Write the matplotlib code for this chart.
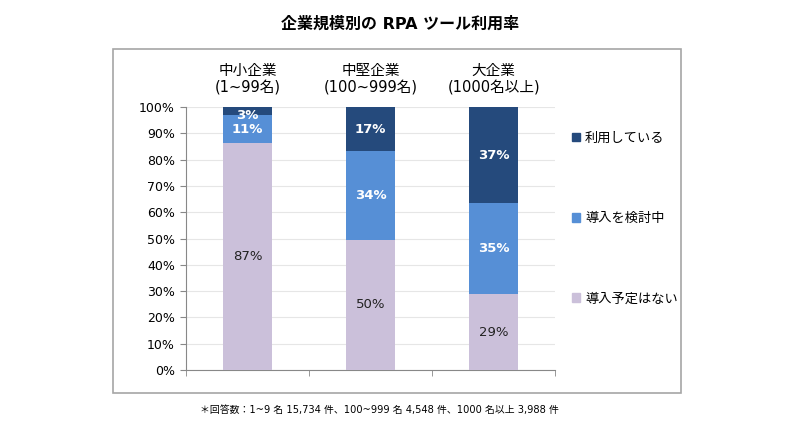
import matplotlib
matplotlib.use("Agg")
import matplotlib.pyplot as plt
import matplotlib.transforms as mtransforms
from matplotlib.patches import Rectangle, Patch

plt.rcParams["font.family"] = ["DejaVu Sans", "Noto Sans CJK JP"]

# データ
categories = ["中小企業\n(1~99名)", "中堅企業\n(100~999名)", "大企業\n(1000名以上)"]
series_names = ["利用している", "導入を検討中", "導入予定はない"]
using = [3, 17, 37]
considering = [11, 34, 35]
no_plan = [87, 50, 29]
colors = ["#254A7C", "#568FD6", "#CBC0DA"]
title = "企業規模別の RPA ツール利用率"
note = "＊回答数：1~9 名 15,734 件、100~999 名 4,548 件、1000 名以上 3,988 件"

# 100%積み上げ用に正規化
totals = [a + b + c for a, b, c in zip(using, considering, no_plan)]
norm = lambda vals: [v / t * 100 for v, t in zip(vals, totals)]
n_no, n_con, n_use = norm(no_plan), norm(considering), norm(using)

fig = plt.figure(figsize=(8, 4.28), dpi=100)
ax = fig.add_axes([0.2325, 0.1355, 0.4615, 0.6145])

x = list(range(len(categories)))
w = 0.4
ax.bar(x, n_no, w, color=colors[2], zorder=3)
ax.bar(x, n_con, w, bottom=n_no, color=colors[1], zorder=3)
bottom3 = [a + b for a, b in zip(n_no, n_con)]
ax.bar(x, n_use, w, bottom=bottom3, color=colors[0], zorder=3)

# ラベル
for i in x:
    ax.text(i, n_no[i] / 2, f"{no_plan[i]}%", ha="center", va="center",
            fontsize=9.5, color="#222222", zorder=4)
    y_con = n_no[i] + n_con[i] / 2
    y_use = bottom3[i] + n_use[i] / 2
    if i == 0:
        y_con = 91.5
        y_use = 96.8
    ax.text(i, y_con, f"{considering[i]}%", ha="center", va="center",
            fontsize=9.5, color="white", fontweight="bold", zorder=4)
    ax.text(i, y_use, f"{using[i]}%", ha="center", va="center",
            fontsize=9.5, color="white", fontweight="bold", zorder=4)

ax.set_xlim(-0.5, 2.5)
ax.set_ylim(0, 100)
ax.set_yticks(range(0, 101, 10))
ax.set_yticklabels([f"{v}%" for v in range(0, 101, 10)], fontsize=9)
ax.set_xticks([])
ax.set_xticks([-0.5, 0.5, 1.5, 2.5], minor=True)
ax.tick_params(axis="x", which="minor", length=4, color="#888888", labelbottom=False)
ax.tick_params(axis="y", length=4, color="#888888", pad=4)
ax.grid(axis="y", color="#E6E6E6", linewidth=0.8, zorder=0)
for s in ["top", "right"]:
    ax.spines[s].set_visible(False)
for s in ["left", "bottom"]:
    ax.spines[s].set_color("#888888")

# カテゴリ名（上部）
trans = mtransforms.blended_transform_factory(ax.transData, ax.transAxes)
for i, c in enumerate(categories):
    l1, l2 = c.split("\n")
    ax.text(i, 1.14, l1, transform=trans, ha="center", va="center", fontsize=10.5)
    ax.text(i, 1.072, l2, transform=trans, ha="center", va="center", fontsize=10.5)

# 凡例
handles = [Patch(color=colors[k]) for k in range(3)]
fig.legend(handles, series_names, loc="upper left", bbox_to_anchor=(0.70, 0.72),
           frameon=False, fontsize=9.5, handlelength=0.6, handleheight=0.6,
           handletextpad=0.4, labelspacing=5.1)

fig.text(0.5, 0.945, title, ha="center", va="center", fontsize=11.5, fontweight="bold")
fig.text(0.474, 0.043, note, ha="center", va="center", fontsize=7.1)

fig.patches.append(Rectangle((113 / 800, 1 - 393 / 428), 568 / 800, 344 / 428,
                             transform=fig.transFigure, fill=False,
                             edgecolor="#A6A6A6", linewidth=1.2))

fig.savefig("out.png", dpi=100)
